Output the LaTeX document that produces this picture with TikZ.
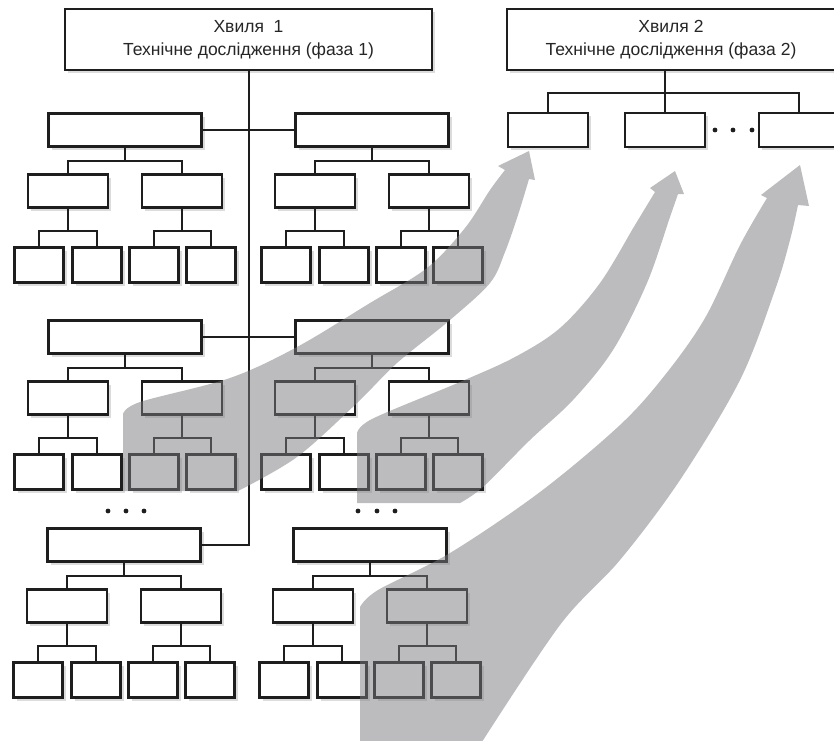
\documentclass[tikz,border=0pt]{standalone}
\usepackage{fontspec}
\setmainfont{Liberation Sans}
\usetikzlibrary{shadows}

\definecolor{boxline}{RGB}{30,30,30}
\definecolor{flowgray}{RGB}{122,122,128}

\tikzset{
  box/.style={draw=boxline, line width=2.6pt, fill=white, inner sep=0pt,
    drop shadow={opacity=0.28, shadow xshift=3pt, shadow yshift=-3pt}},
  wavebox/.style={box, minimum height=61pt, align=center,
    font=\fontsize{17.5}{23}\selectfont, text=black!85},
  bigbox/.style={box, minimum width=153pt, minimum height=33pt},
  midbox/.style={box, minimum width=80pt, minimum height=33pt},
  leafbox/.style={box, minimum width=49pt, minimum height=35pt},
  link/.style={draw=boxline, line width=2pt},
  flow/.style={fill=flowgray, fill opacity=0.5},
}

% one work package: root, two tasks, four subtasks
\newcommand{\branch}[3]{%
  \node[bigbox] (#1) at (#2,#3) {};
  \node[midbox] (#1a) at (#2-57,#3+61) {};
  \node[midbox] (#1b) at (#2+57,#3+61) {};
  \node[leafbox] (#1a1) at (#2-86,#3+135) {};
  \node[leafbox] (#1a2) at (#2-28,#3+135) {};
  \node[leafbox] (#1b1) at (#2+29,#3+135) {};
  \node[leafbox] (#1b2) at (#2+86,#3+135) {};
  \draw[link] (#1.south) -- ++(0,13) -| (#1a.north);
  \draw[link] (#1.south) -- ++(0,13) -| (#1b.north);
  \draw[link] (#1a.south) -- ++(0,22) -| (#1a1.north);
  \draw[link] (#1a.south) -- ++(0,22) -| (#1a2.north);
  \draw[link] (#1b.south) -- ++(0,22) -| (#1b1.north);
  \draw[link] (#1b.south) -- ++(0,22) -| (#1b2.north);
}

\begin{document}
\begin{tikzpicture}[x=1pt, y=-1pt]
    \useasboundingbox (0,0) rectangle (834,740);

    % Wave headers
    \node[wavebox, minimum width=367pt] (wave1) at (248.5,39.5) {Хвиля\ \ 1\\Технічне дослідження (фаза 1)};
    \node[wavebox, minimum width=328pt] (wave2) at (671,39.5) {Хвиля 2\\Технічне дослідження (фаза 2)};

    % Wave 1 packages
    \branch{g1l}{125}{130}
    \branch{g1r}{372}{130}
    \branch{g2l}{125}{337}
    \branch{g2r}{372}{337}
    \branch{g3l}{124}{545}
    \branch{g3r}{370}{545}

    % Trunk
    \draw[link] (wave1.south) |- (g3l.east);
    \draw[link] (g1l.east) -- (g1r.west);
    \draw[link] (g2l.east) -- (g2r.west);

    % Wave 2 packages
    \node[midbox, minimum height=34pt] (phase2a) at (548,130) {};
    \node[midbox, minimum height=34pt] (phase2b) at (665,130) {};
    \node[midbox, minimum height=34pt] (phase2c) at (799,130) {};
    \draw[link] (phase2b.north) -- (phase2b.north |- wave2.south);
    \draw[link] (phase2a.north) -- ++(0,-19) -| (phase2c.north);

    % Ellipses
    \fill[boxline] (715,130) circle (2.4pt) (733,130) circle (2.4pt) (752,130) circle (2.4pt);
    \fill[boxline] (108,511) circle (2.4pt) (126,511) circle (2.4pt) (144,511) circle (2.4pt);
    \fill[boxline] (358,511) circle (2.4pt) (377,511) circle (2.4pt) (395,511) circle (2.4pt);

    % Carry-over arrows
    \fill[flow] (123,491) -- plot[smooth, tension=0.55] coordinates {(123,414) (140,402) (230,378) (297,347) (370,303) (427,268) (465,228) (490,190) (505,170)}
        -- (498,166) -- (529,151) -- (535,180)
        -- plot[smooth, tension=0.55] coordinates {(529,179) (518,215) (505,252) (490,283) (450,320) (397,363) (357,403) (297,457) (238,491)} -- cycle;
    \fill[flow] (357,503) -- plot[smooth, tension=0.55] coordinates {(357,434) (372,419) (460,382) (515,357) (560,328) (600,283) (635,225) (655,192)}
        -- (650,188) -- (675,171) -- (684,194)
        -- plot[smooth, tension=0.55] coordinates {(678,194) (670,217) (647,283) (613,350) (573,400) (530,440) (483,487) (460,503)} -- cycle;
    \fill[flow] (360,745) -- plot[smooth, tension=0.55] coordinates {(360,607) (378,590) (450,553) (540,492) (620,425) (665,375) (705,318) (740,245) (767,198)}
        -- (761,195) -- (800,165) -- (809,206)
        -- plot[smooth, tension=0.55] coordinates {(798,205) (790,240) (775,290) (740,380) (680,480) (620,560) (560,625) (480,745)} -- cycle;
\end{tikzpicture}
\end{document}
